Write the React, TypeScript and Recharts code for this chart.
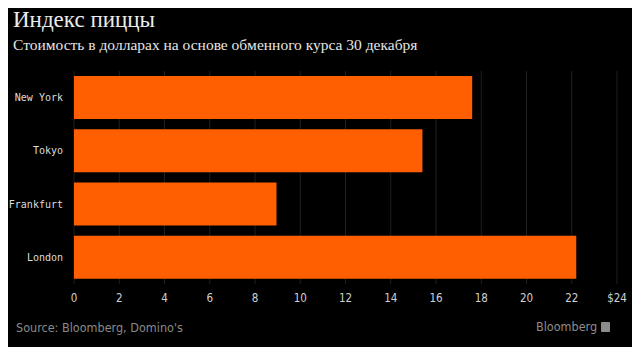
import { BarChart, Bar, XAxis, YAxis, CartesianGrid } from 'recharts'

const cities = ['New York', 'Tokyo', 'Frankfurt', 'London']
const prices = [17.6, 15.4, 8.95, 22.2]
const xTicks = [0, 2, 4, 6, 8, 10, 12, 14, 16, 18, 20, 22, 24]

const data = cities.map((city, i) => ({ city, price: prices[i] }))

export default function App() {
  return (
    <div
      style={{
        position: 'relative',
        width: 640,
        height: 355,
        background: '#000000',
        margin: -8,
        overflow: 'hidden',
      }}
    >
      <div
        style={{
          position: 'absolute',
          left: 13,
          top: 7,
          color: '#ececec',
          fontFamily: '"Liberation Serif", "DejaVu Serif", serif',
          fontSize: 23,
        }}
      >
        Индекс пиццы
      </div>
      <div
        style={{
          position: 'absolute',
          left: 13,
          top: 36,
          color: '#e6e6e6',
          fontFamily: '"Liberation Serif", "DejaVu Serif", serif',
          fontSize: 15.5,
        }}
      >
        Стоимость в долларах на основе обменного курса 30 декабря
      </div>
      <BarChart
        width={640}
        height={355}
        data={data}
        layout="vertical"
        margin={{ top: 71, right: 23, left: 0, bottom: 46 }}
        barSize={43}
      >
        <CartesianGrid horizontal={false} stroke="#1f1f1f" />
        <XAxis
          type="number"
          domain={[0, 24]}
          ticks={xTicks}
          interval={0}
          axisLine={false}
          tickLine={false}
          tickFormatter={(v: number) => (v === 24 ? '$24' : String(v))}
          tick={{ fill: '#d0d0d0', fontSize: 11.5, fontFamily: '"DejaVu Sans Condensed", "DejaVu Sans", sans-serif' }}
          height={25}
          tickMargin={4}
        />
        <YAxis
          type="category"
          dataKey="city"
          width={74}
          axisLine={false}
          tickLine={false}
          tickMargin={5}
          tick={{ fill: '#dcdcdc', fontSize: 10, fontFamily: '"DejaVu Sans Mono", monospace' }}
        />
        <Bar dataKey="price" fill="#ff5f00" isAnimationActive={false} />
      </BarChart>
      <div
        style={{
          position: 'absolute',
          left: 16,
          top: 320,
          color: '#8a8a8a',
          fontFamily: '"DejaVu Sans Condensed", "DejaVu Sans", sans-serif',
          fontSize: 12.5,
        }}
      >
        Source: Bloomberg, Domino's
      </div>
      <div
        style={{
          position: 'absolute',
          left: 536,
          top: 319,
          color: '#8c8c8c',
          fontFamily: '"DejaVu Sans Condensed", "DejaVu Sans", sans-serif',
          fontSize: 12.5,
        }}
      >
        Bloomberg
      </div>
      <div
        style={{
          position: 'absolute',
          left: 601,
          top: 322,
          width: 9,
          height: 10,
          background: '#8c8c8c',
          borderRadius: 1,
        }}
      />
    </div>
  )
}
